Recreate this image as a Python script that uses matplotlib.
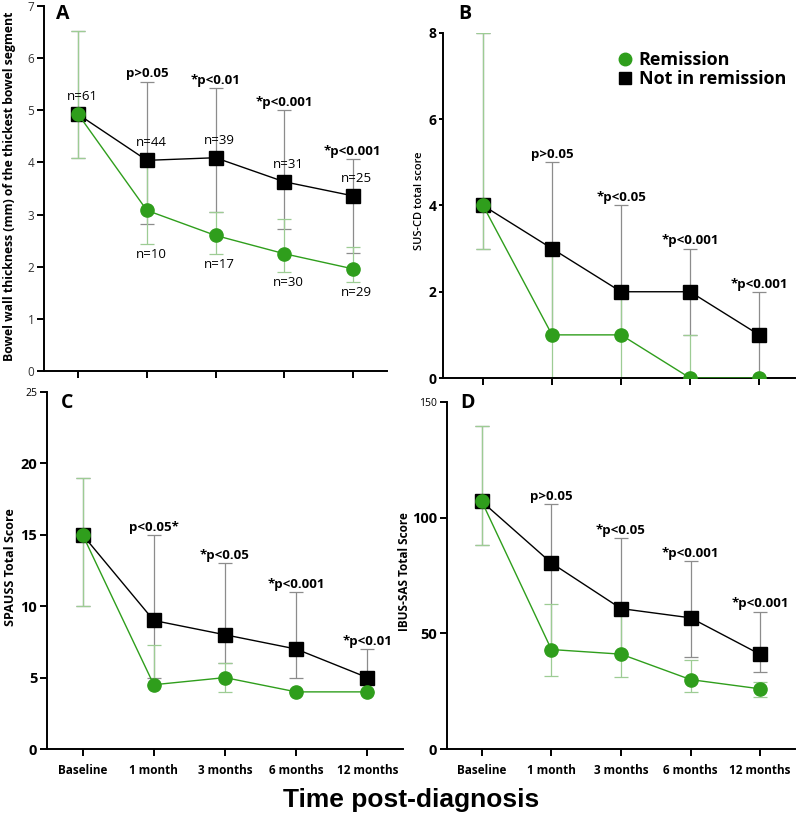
import matplotlib
matplotlib.use("Agg")
import matplotlib.pyplot as plt
from matplotlib.lines import Line2D

plt.rcParams['font.family'] = ['Open Sans', 'DejaVu Sans']

GREEN = '#2f9e1c'
GREEN_BAR = '#9dcc94'
GRAY_BAR = '#8c8c8c'

timepoints = ["Baseline", "1 month", "3 months", "6 months", "12 months"]

# Panel A - bowel wall thickness
a_rem = [4.92, 3.08, 2.60, 2.25, 1.96]
a_rem_lo = [4.08, 2.43, 2.24, 1.90, 1.71]
a_rem_hi = [6.53, 3.95, 3.04, 2.92, 2.37]
a_not = [4.92, 4.04, 4.09, 3.63, 3.36]
a_not_lo = [4.08, 2.81, 3.04, 2.72, 2.26]
a_not_hi = [6.53, 5.55, 5.43, 5.00, 4.07]
a_pvals = ["", "p>0.05", "*p<0.01", "*p<0.001", "*p<0.001"]
a_n_not = ["n=61", "n=44", "n=39", "n=31", "n=25"]
a_n_rem = ["", "n=10", "n=17", "n=30", "n=29"]

# Panel B - SUS-CD
b_rem = [4, 1, 1, 0, 0]
b_rem_lo = [3, 0, 0, 0, 0]
b_rem_hi = [8, 3, 2, 1, 0]
b_not = [4, 3, 2, 2, 1]
b_not_lo = [3, 1, 1, 1, 0]
b_not_hi = [8, 5, 4, 3, 2]
b_pvals = ["", "p>0.05", "*p<0.05", "*p<0.001", "*p<0.001"]

# Panel C - SPAUSS
c_rem = [15, 4.5, 5, 4, 4]
c_rem_lo = [10, 4.5, 4, 4, 4]
c_rem_hi = [19, 7.3, 6, 4, 4]
c_not = [15, 9, 8, 7, 5]
c_not_lo = [10, 5, 6, 5, 5]
c_not_hi = [19, 15, 13, 11, 7]
c_pvals = ["", "p<0.05*", "*p<0.05", "*p<0.001", "*p<0.01"]

# Panel D - IBUS-SAS
d_rem = [107, 43, 41, 30, 26]
d_rem_lo = [88, 31.5, 31.2, 24.5, 22.6]
d_rem_hi = [139.5, 62.5, 58, 38.4, 29.1]
d_not = [107, 80.4, 60.7, 56.7, 40.9]
d_not_lo = [88, 43, 41, 39.9, 33.4]
d_not_hi = [139.5, 105.8, 91.2, 81.4, 59.4]
d_pvals = ["", "p>0.05", "*p<0.05", "*p<0.001", "*p<0.001"]

W, H = 800, 821
fig = plt.figure(figsize=(W / 100, H / 100), dpi=100)


def px_axes(left, top, right, bottom):
    return fig.add_axes([left / W, 1 - bottom / H, (right - left) / W, (bottom - top) / H])


def draw_panel(ax, rem, rem_lo, rem_hi, nr, nr_lo, nr_hi, pvals, ylim, yticks, xlim):
    x = list(range(len(timepoints)))
    nr_err = [[m - lo for m, lo in zip(nr, nr_lo)], [hi - m for m, hi in zip(nr, nr_hi)]]
    rem_err = [[m - lo for m, lo in zip(rem, rem_lo)], [hi - m for m, hi in zip(rem, rem_hi)]]
    ax.errorbar(x, nr, yerr=nr_err, fmt='none', ecolor=GRAY_BAR, elinewidth=0.9,
                capsize=5, capthick=0.9, zorder=1)
    ax.errorbar(x, rem, yerr=rem_err, fmt='none', ecolor=GREEN_BAR, elinewidth=0.9,
                capsize=5, capthick=0.9, zorder=2)
    ax.plot(x, nr, color='black', lw=1.0, marker='s', ms=10, mfc='black', mec='black', zorder=3)
    ax.plot(x, rem, color=GREEN, lw=1.0, marker='o', ms=9.5, mfc=GREEN, mec=GREEN, zorder=4)
    for i, p in enumerate(pvals):
        if p:
            ax.annotate(p, xy=(i, nr_hi[i]), xytext=(0, 3), textcoords='offset points',
                        ha='center', va='baseline', fontsize=9.5, fontweight='bold')
    ax.set_xlim(*xlim)
    ax.set_ylim(*ylim)
    ax.set_yticks(yticks)
    ax.set_xticks(x)
    for s in ('top', 'right'):
        ax.spines[s].set_visible(False)
    for s in ('left', 'bottom'):
        ax.spines[s].set_linewidth(1.4)
    ax.tick_params(direction='out', length=5, width=1.4)


# Panel A
ax_a = px_axes(44, 6, 387, 371)
draw_panel(ax_a, a_rem, a_rem_lo, a_rem_hi, a_not, a_not_lo, a_not_hi, a_pvals,
           (0, 7), range(0, 8), (-0.5, 4.5))
ax_a.set_xticklabels([])
ax_a.tick_params(axis='y', labelsize=8.5, labelcolor='#333333', pad=2)
for i, lab in enumerate(a_n_not):
    ax_a.annotate(lab, xy=(i, a_not[i]), xytext=(3, 8), textcoords='offset points',
                  ha='center', va='bottom', fontsize=9.5)
for i, lab in enumerate(a_n_rem):
    if lab:
        ax_a.annotate(lab, xy=(i, a_rem_lo[i]), xytext=(3, -3), textcoords='offset points',
                      ha='center', va='top', fontsize=9.5)

# Panel B
ax_b = px_axes(443, 33, 795, 378)
draw_panel(ax_b, b_rem, b_rem_lo, b_rem_hi, b_not, b_not_lo, b_not_hi, b_pvals,
           (0, 8), range(0, 9, 2), (-0.58, 4.52))
ax_b.set_xticklabels([])
ax_b.tick_params(axis='y', length=3, pad=1.5)
for lab in ax_b.get_yticklabels():
    lab.set_fontweight('bold')
    lab.set_fontsize(10)

# Panel C
ax_c = px_axes(47, 392, 403, 749)
draw_panel(ax_c, c_rem, c_rem_lo, c_rem_hi, c_not, c_not_lo, c_not_hi, c_pvals,
           (0, 25), range(0, 26, 5), (-0.5, 4.5))

# Panel D
ax_d = px_axes(447, 402, 795, 749)
draw_panel(ax_d, d_rem, d_rem_lo, d_rem_hi, d_not, d_not_lo, d_not_hi, d_pvals,
           (0, 150), range(0, 151, 50), (-0.5, 4.5))

for ax in (ax_c, ax_d):
    ax.set_xticklabels(timepoints, fontsize=8.5, fontweight='bold')
    ax.tick_params(axis='x', pad=6)
    ax.tick_params(axis='y', pad=2)
    labels = ax.get_yticklabels()
    for lab in labels:
        lab.set_fontweight('bold')
        lab.set_fontsize(10.5)
    labels[-1].set_fontweight('normal')
    labels[-1].set_fontsize(7.5)

# axis titles
fig.text(10 / W, 1 - 186 / H, "Bowel wall thickness (mm) of the thickest bowel segment",
         rotation=90, ha='center', va='center', fontsize=8.8, fontweight='bold')
fig.text(420 / W, 1 - 201 / H, "SUS-CD total score", rotation=90, ha='center', va='center',
         fontsize=8, fontweight='semibold')
fig.text(11 / W, 1 - 567 / H, "SPAUSS Total Score", rotation=90, ha='center', va='center',
         fontsize=9, fontweight='bold')
fig.text(404 / W, 1 - 572 / H, "IBUS-SAS Total Score", rotation=90, ha='center', va='center',
         fontsize=8.5, fontweight='bold')

# panel letters
for letter, xp, yp in (("A", 63, 14), ("B", 465, 14), ("C", 67, 403), ("D", 468, 403)):
    fig.text(xp / W, 1 - yp / H, letter, ha='center', va='center', fontsize=14, fontweight='bold')

fig.text(411 / W, 1 - 800 / H, "Time post-diagnosis", ha='center', va='center',
         fontsize=19, fontweight='bold', family=['Liberation Sans', 'DejaVu Sans'])

# legend
handles = [Line2D([], [], ls='none', marker='o', ms=9, color=GREEN),
           Line2D([], [], ls='none', marker='s', ms=9, color='black')]
fig.legend(handles, ["Remission", "Not in remission"], loc='upper left',
           bbox_to_anchor=(608 / W, 1 - 42 / H), frameon=False, handlelength=0.9,
           handletextpad=0.3, labelspacing=0.05, borderpad=0,
           prop={'size': 13, 'weight': 'bold'})

fig.savefig("out.png", dpi=100)
